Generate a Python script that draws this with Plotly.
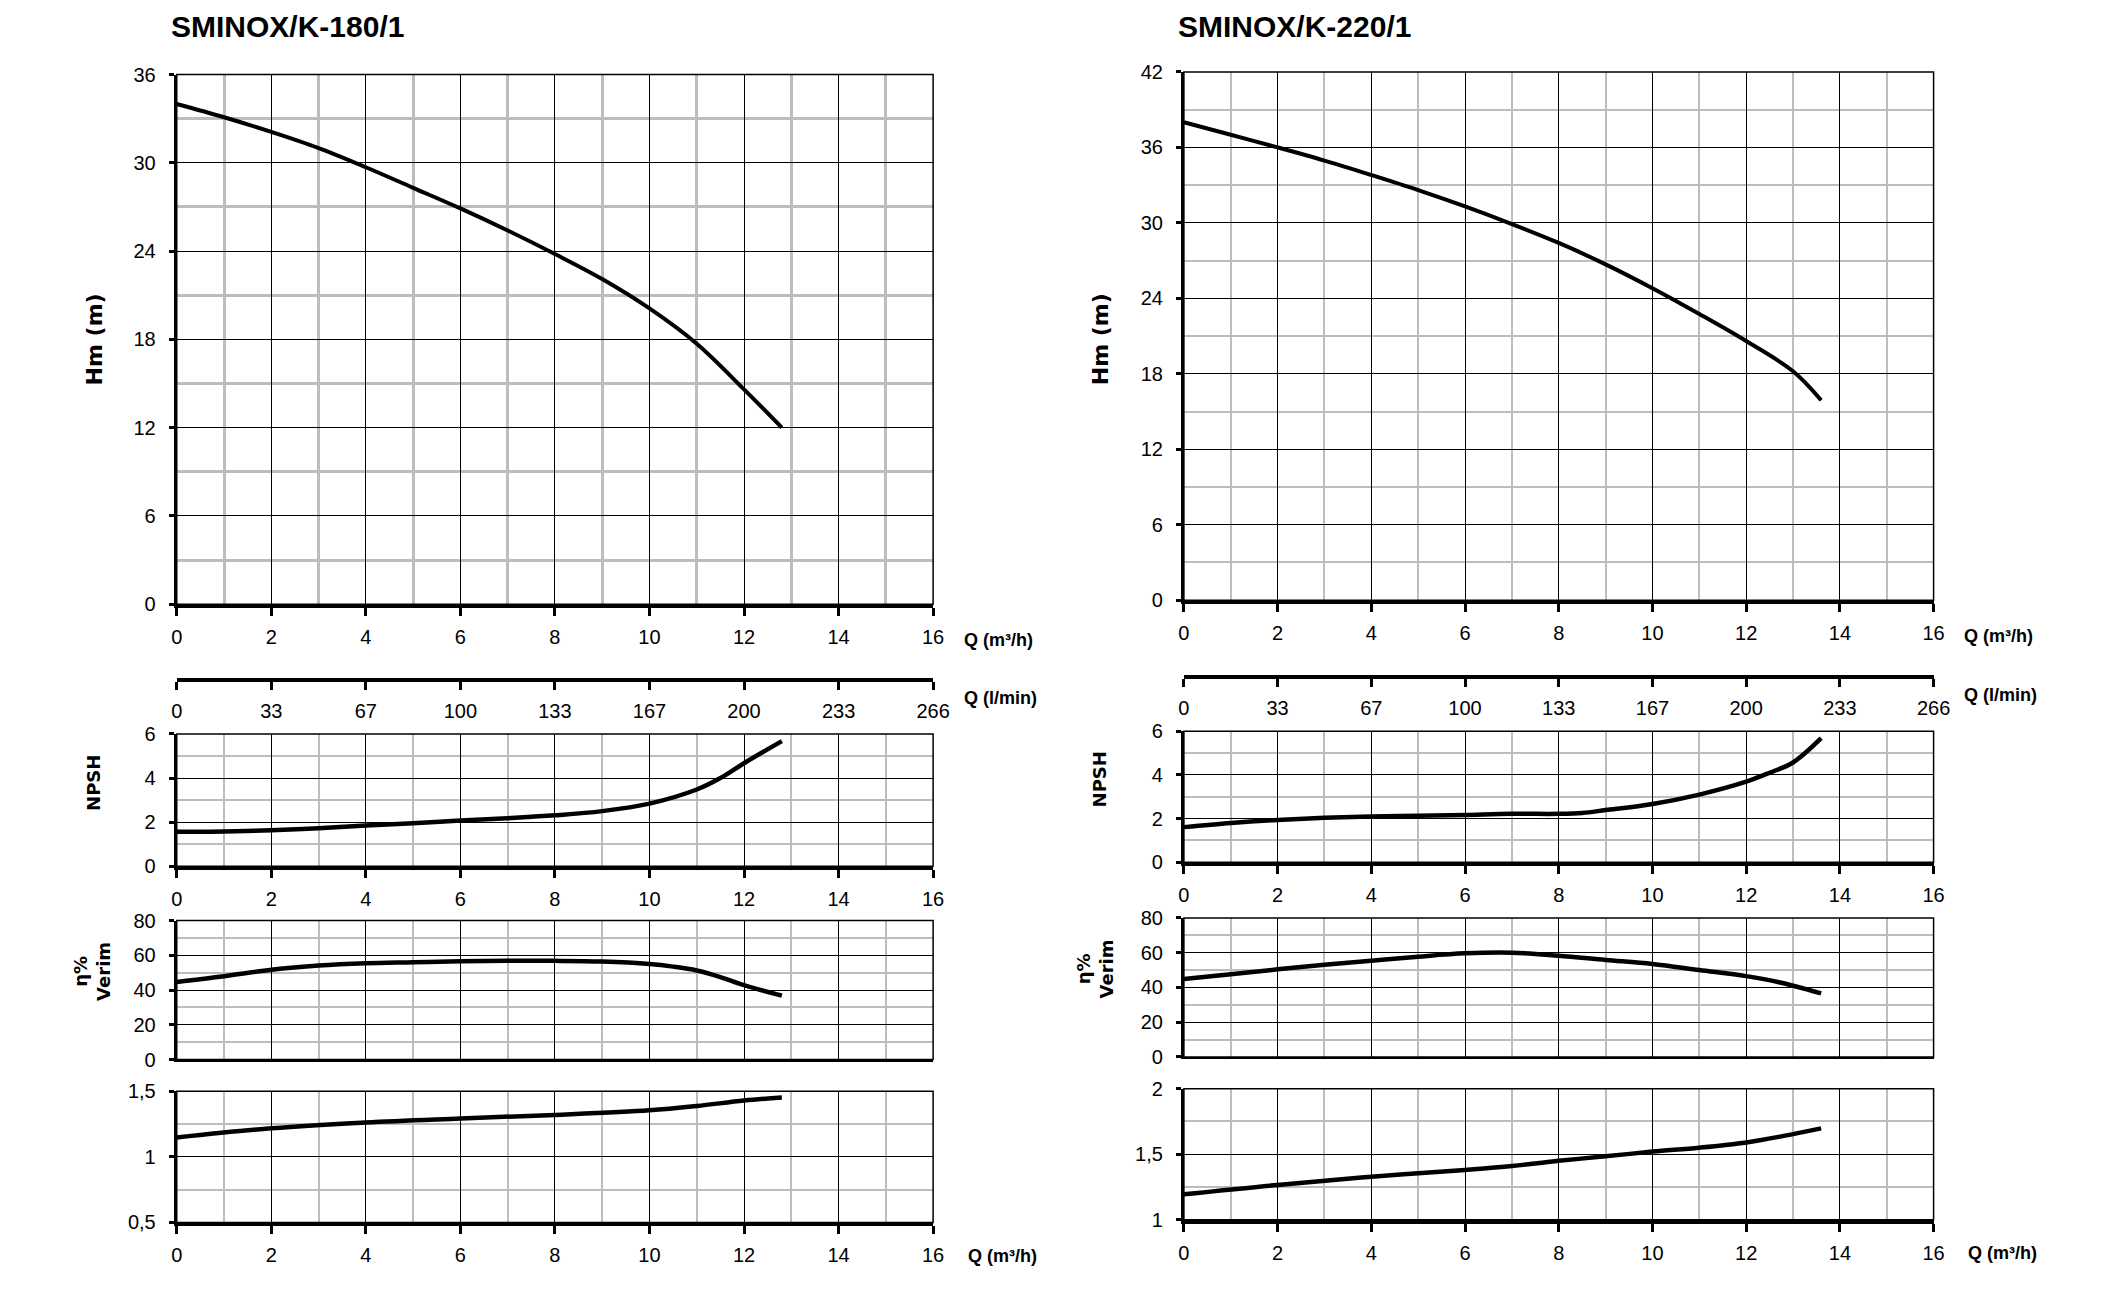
import plotly.graph_objects as go

# ---------------- data ----------------
titles = ["SMINOX/K-180/1", "SMINOX/K-220/1"]

q_180 = [0, 1, 2, 3, 4, 5, 6, 7, 8, 9, 10, 11, 12, 12.8]
hm_180 = [34.0, 33.1, 32.1, 31.0, 29.7, 28.3, 26.9, 25.4, 23.8, 22.1, 20.1, 17.7, 14.6, 12.0]
q_180_npsh = [0, 1, 2, 3, 4, 5, 6, 7, 8, 9, 10, 11, 11.5, 12, 12.8]
npsh_180 = [1.56, 1.58, 1.63, 1.72, 1.85, 1.95, 2.07, 2.18, 2.31, 2.5, 2.84, 3.48, 4.0, 4.67, 5.67]
q_180_eff = [0, 1, 2, 3, 4, 5, 6, 7, 8, 9, 10, 10.5, 11, 11.5, 12, 12.8]
eff_180 = [44.7, 48.0, 51.7, 54.1, 55.4, 56.0, 56.6, 56.8, 56.8, 56.4, 55.0, 53.5, 51.3, 47.5, 42.8, 36.8]
q_180_pow = [0, 2, 4, 6, 8, 10, 11, 12, 12.8]
pow_180 = [1.148, 1.218, 1.263, 1.293, 1.32, 1.355, 1.388, 1.43, 1.453]

q_220 = [0, 1, 2, 3, 4, 5, 6, 7, 8, 9, 10, 11, 12, 13, 13.6]
hm_220 = [38.0, 37.0, 36.0, 34.95, 33.8, 32.6, 31.3, 29.9, 28.4, 26.7, 24.8, 22.75, 20.6, 18.2, 15.9]
q_220_npsh = [0, 1, 2, 3, 4, 5, 6, 7, 8, 8.5, 9, 10, 11, 12, 12.5, 13, 13.6]
npsh_220 = [1.61, 1.8, 1.94, 2.04, 2.1, 2.13, 2.17, 2.22, 2.22, 2.26, 2.39, 2.67, 3.1, 3.69, 4.1, 4.57, 5.68]
q_220_eff = [0, 1, 2, 3, 4, 5, 6, 7, 8, 9, 10, 11, 12, 12.7, 13.6]
eff_220 = [44.8, 47.6, 50.4, 53.0, 55.4, 57.7, 59.6, 60.0, 58.2, 55.8, 53.5, 50.0, 46.5, 43.0, 36.6]
q_220_pow = [0, 2, 4, 6, 7, 8, 9, 10, 11, 12, 12.8, 13.6]
pow_220 = [1.194, 1.266, 1.328, 1.38, 1.41, 1.45, 1.484, 1.52, 1.55, 1.59, 1.64, 1.697]

lmin_labels = ["0", "33", "67", "100", "133", "167", "200", "233", "266"]
lmin_max = 266

hm_ranges = [[0, 36], [0, 42]]
pow_ranges = [[0.5, 1.5], [1, 2]]

# ---------------- layout geometry (paper fractions) ----------------
W, H = 1560.0, 960.0
def fy(px):
    return 1 - px / H

cols = [
    dict(x0=128 / W, x1=695 / W, main=(48, 448), lmin=503, npsh=(546, 646),
         eff=(687, 792), pw=(816, 915), title_x=122 / W, ylab_x=66 / W, eta_x=64 / W,
         qlab_x=717 / W),
    dict(x0=883 / W, x1=1445 / W, main=(46, 445), lmin=501, npsh=(544, 643),
         eff=(685, 790), pw=(814, 913), title_x=877 / W, ylab_x=820 / W, eta_x=816 / W,
         qlab_x=1466 / W),
]

TICKFONT = dict(family="Liberation Sans, Arial, sans-serif", size=20, color="black")
LBLFONT = dict(family="DejaVu Sans, Verdana, sans-serif", size=22, color="black")
QFONT = dict(family="Liberation Sans, Arial, sans-serif", size=18, color="black")
GRAY = "#bdbdbd"

fig = go.Figure()
layout = dict(
    width=2104, height=1293, margin=dict(l=0, r=0, t=0, b=0),
    paper_bgcolor="white", plot_bgcolor="white", showlegend=False,
    separators=",.", annotations=[], shapes=[],
)

series = [
    (q_180, hm_180, q_180_npsh, npsh_180, q_180_eff, eff_180, q_180_pow, pow_180),
    (q_220, hm_220, q_220_npsh, npsh_220, q_220_eff, eff_220, q_220_pow, pow_220),
]

def xaxis_def(c, ydom_name, ticklabels=True, ticks=True, linew=4):
    return dict(
        domain=[c["x0"], c["x1"]], anchor=ydom_name, range=[0, 16], dtick=2, tick0=0,
        showgrid=True, gridcolor="black", gridwidth=1.3,
        minor=dict(dtick=1, showgrid=True, gridcolor=GRAY, gridwidth=1.5),
        showline=True, linecolor="black", linewidth=linew,
        ticks="outside" if ticks else "", ticklen=8, tickwidth=3, tickcolor="black",
        showticklabels=ticklabels, tickfont=TICKFONT, zeroline=False, fixedrange=True,
        ticklabelstandoff=4,
    )

def yaxis_def(dom, xname, rng, dtick, mdtick, mgw=1.5):
    return dict(
        domain=[fy(dom[1]), fy(dom[0])], anchor=xname, range=rng, dtick=dtick, tick0=rng[0],
        showgrid=True, gridcolor="black", gridwidth=1.3,
        minor=dict(dtick=mdtick, tick0=rng[0], showgrid=True, gridcolor=GRAY, gridwidth=mgw),
        showline=True, linecolor="black", linewidth=3,
        ticks="outside", ticklen=5, tickwidth=3, tickcolor="black",
        tickfont=TICKFONT, zeroline=False, fixedrange=True, ticklabelstandoff=9,
    )

def frame(xr, yr):
    layout["shapes"].append(dict(type="rect", xref=xr + " domain", yref=yr + " domain",
                                 x0=0, x1=1, y0=0, y1=1, line=dict(color="black", width=1.5),
                                 layer="above"))

for ci, c in enumerate(cols):
    qh, hm, qn, npv, qe, ev, qp, pv = series[ci]
    base = ci * 5
    names = [str(base + k + 1) for k in range(5)]
    def ax(k):
        i = names[k]
        return ("xaxis" if i == "1" else "xaxis" + i), ("yaxis" if i == "1" else "yaxis" + i), \
               ("x" if i == "1" else "x" + i), ("y" if i == "1" else "y" + i)

    # main H-Q
    xa, ya, xr, yr = ax(0)
    layout[xa] = xaxis_def(c, yr)
    layout[ya] = yaxis_def(c["main"], xr, hm_ranges[ci], 6, 3, mgw=3.2 if ci == 0 else 1.5)
    if ci == 0:
        layout[xa]["minor"]["gridwidth"] = 3.2
    frame(xr, yr)
    fig.add_trace(go.Scatter(x=qh, y=hm, mode="lines", line=dict(color="black", width=4, shape="spline"),
                             xaxis=xr, yaxis=yr))

    # l/min axis
    xa, ya, xr, yr = ax(1)
    step = lmin_max / (len(lmin_labels) - 1)
    layout[xa] = dict(
        domain=[c["x0"], c["x1"]], anchor=yr, range=[0, lmin_max],
        tickvals=[k * step for k in range(len(lmin_labels))], ticktext=lmin_labels,
        showgrid=False, zeroline=False, showline=True, linecolor="black", linewidth=4,
        ticks="outside", ticklen=8, tickwidth=3, tickcolor="black", tickfont=TICKFONT,
        fixedrange=True, ticklabelstandoff=4,
    )
    layout[ya] = dict(domain=[fy(c["lmin"]) - 0.0005, fy(c["lmin"])], anchor=xr, range=[0, 1],
                      visible=False, fixedrange=True)
    fig.add_trace(go.Scatter(x=[None], y=[None], mode="lines", xaxis=xr, yaxis=yr, hoverinfo="skip"))

    # NPSH
    xa, ya, xr, yr = ax(2)
    layout[xa] = xaxis_def(c, yr)
    layout[ya] = yaxis_def(c["npsh"], xr, [0, 6], 2, 1)
    frame(xr, yr)
    fig.add_trace(go.Scatter(x=qn, y=npv, mode="lines", line=dict(color="black", width=4.5, shape="spline"),
                             xaxis=xr, yaxis=yr))

    # efficiency
    xa, ya, xr, yr = ax(3)
    layout[xa] = xaxis_def(c, yr, ticklabels=False, ticks=False, linew=2)
    layout[ya] = yaxis_def(c["eff"], xr, [0, 80], 20, 10)
    frame(xr, yr)
    fig.add_trace(go.Scatter(x=qe, y=ev, mode="lines", line=dict(color="black", width=4.5, shape="spline"),
                             xaxis=xr, yaxis=yr))

    # power
    xa, ya, xr, yr = ax(4)
    layout[xa] = xaxis_def(c, yr)
    layout[ya] = yaxis_def(c["pw"], xr, pow_ranges[ci], 0.5, 0.25)
    frame(xr, yr)
    fig.add_trace(go.Scatter(x=qp, y=pv, mode="lines", line=dict(color="black", width=4.5, shape="spline"),
                             xaxis=xr, yaxis=yr))

    A = layout["annotations"]
    A.append(dict(text="<b>" + titles[ci] + "</b>", xref="paper", yref="paper", x=c["title_x"], y=fy(12),
                  xanchor="left", yanchor="middle", showarrow=False,
                  font=dict(family="Liberation Sans, Arial, sans-serif", size=30, color="black")))
    A.append(dict(text="<b>Hm (m)</b>", xref="paper", yref="paper", x=c["ylab_x"], y=fy(248),
                  xanchor="center", yanchor="middle",
                  textangle=-90, showarrow=False, font=LBLFONT))
    A.append(dict(text="<b>NPSH</b>", xref="paper", yref="paper", x=c["ylab_x"],
                  y=fy((c["npsh"][0] + c["npsh"][1]) / 2 - 13), xanchor="center", yanchor="middle",
                  textangle=-90, showarrow=False, font=dict(family=LBLFONT["family"], size=18, color="black")))
    A.append(dict(text="<b>η%<br>Verim</b>", xref="paper", yref="paper", x=c["eta_x"],
                  y=fy((c["eff"][0] + c["eff"][1]) / 2 - 14), xanchor="center", yanchor="middle",
                  textangle=-90, showarrow=False,
                  font=dict(family=LBLFONT["family"], size=18, color="black")))
    A.append(dict(text="<b>Q (m³/h)</b>", xref="paper", yref="paper", x=c["qlab_x"], y=fy(c["main"][1] + 27),
                  xanchor="left", yanchor="middle", showarrow=False, font=QFONT))
    A.append(dict(text="<b>Q (l/min)</b>", xref="paper", yref="paper", x=c["qlab_x"], y=fy(c["lmin"] + 16),
                  xanchor="left", yanchor="middle", showarrow=False, font=QFONT))
    A.append(dict(text="<b>Q (m³/h)</b>", xref="paper", yref="paper", x=c["qlab_x"] + 3 / W,
                  y=fy(c["pw"][1] + 25), xanchor="left", yanchor="middle", showarrow=False, font=QFONT))

fig.update_layout(**layout)
fig.write_html("out.html", config={"displayModeBar": False},
               post_script="document.body.style.margin='0';document.body.style.overflow='hidden';")
